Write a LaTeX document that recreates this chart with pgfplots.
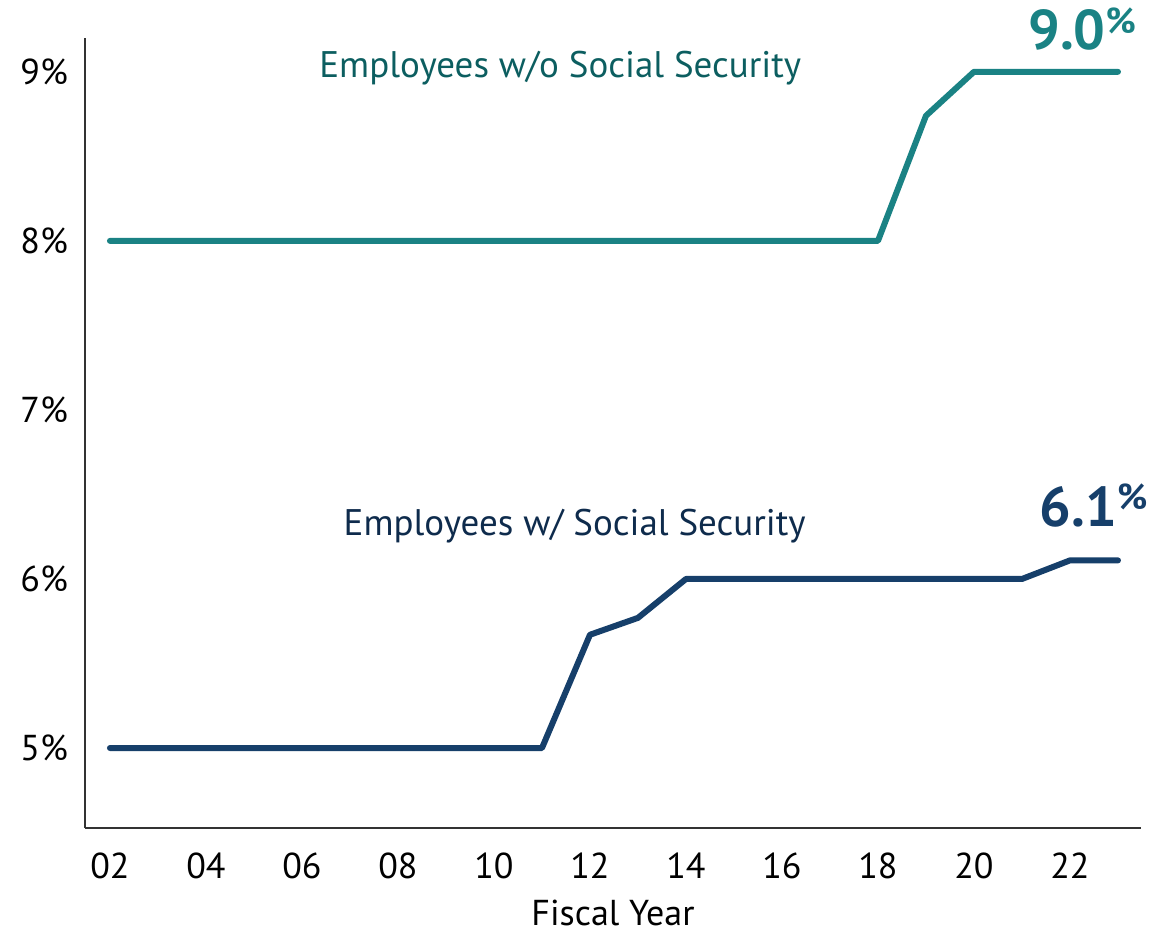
\documentclass[border=0pt]{standalone}
\usepackage{fontspec}
\setmainfont{PT Sans}
\usepackage{pgfplots}
\pgfplotsset{compat=1.18}
\definecolor{tealline}{HTML}{1A8284}
\definecolor{tealtext}{HTML}{0C5E60}
\definecolor{navyline}{HTML}{163F6A}
\definecolor{navytext}{HTML}{0E2B4C}
\begin{document}
\begin{tikzpicture}
\begin{axis}[
  name=ax, at={(0,0)}, anchor=south west,
  scale only axis, width=528pt, height=395pt,
  xmin=2001.48, xmax=2023.48, ymin=4.527, ymax=9.2,
  axis x line*=bottom, axis y line*=left,
  axis line style={black!80, line width=0.8pt},
  major tick length=0pt,
  xtick={2002,2004,...,2022},
  xticklabels={02,04,06,08,10,12,14,16,18,20,22},
  ytick={5,6,7,8,9},
  yticklabels={5\%,6\%,7\%,8\%,9\%},
  tick label style={font=\fontsize{18}{21}\selectfont, black},
  xticklabel style={yshift=-9pt},
  yticklabel style={xshift=-5pt},
  xlabel={Fiscal Year},
  xlabel style={font=\fontsize{18}{21}\selectfont, inner sep=0pt, yshift=-7pt},
  clip=false,
]
\addplot[tealline, line width=3pt, line cap=round, line join=round] coordinates {
(2002,8.0)(2003,8.0)(2004,8.0)(2005,8.0)(2006,8.0)(2007,8.0)(2008,8.0)(2009,8.0)(2010,8.0)
(2011,8.0)(2012,8.0)(2013,8.0)(2014,8.0)(2015,8.0)(2016,8.0)(2017,8.0)(2018,8.0)
(2019,8.74)(2020,9.0)(2021,9.0)(2022,9.0)(2023,9.0)};
\addplot[navyline, line width=3pt, line cap=round, line join=round] coordinates {
(2002,5.0)(2003,5.0)(2004,5.0)(2005,5.0)(2006,5.0)(2007,5.0)(2008,5.0)(2009,5.0)(2010,5.0)
(2011,5.0)(2012,5.67)(2013,5.77)(2014,6.0)(2015,6.0)(2016,6.0)(2017,6.0)(2018,6.0)
(2019,6.0)(2020,6.0)(2021,6.0)(2022,6.11)(2023,6.11)};
\node[tealtext, font=\fontsize{18.5}{21}\selectfont] at (axis cs:2011.38,9.02) {Employees w/o Social Security};
\node[navytext, font=\fontsize{18.5}{21}\selectfont] at (axis cs:2011.68,6.31) {Employees w/ Social Security};
\node[tealline, anchor=base east, inner sep=0pt, font=\fontsize{28}{31}\selectfont\bfseries] at (axis cs:2023.38,9.13) {9.0\raisebox{0.3em}{\fontsize{18}{20}\selectfont\%}};
\node[navyline, anchor=base east, inner sep=0pt, font=\fontsize{28}{31}\selectfont\bfseries] at (axis cs:2023.62,6.31) {6.1\raisebox{0.3em}{\fontsize{18}{20}\selectfont\%}};
\end{axis}
\pgfresetboundingbox
\path (-42.5pt,-54pt) rectangle (537pt,414pt);
\end{tikzpicture}
\end{document}
